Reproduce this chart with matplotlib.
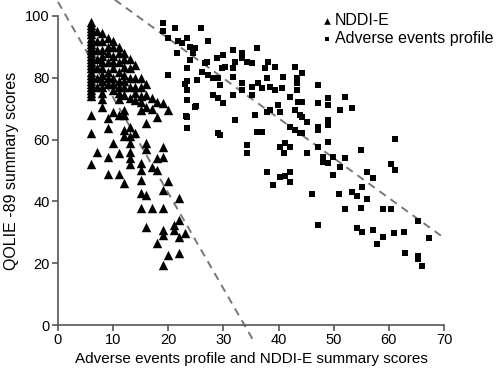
import matplotlib
matplotlib.use("Agg")
import matplotlib.pyplot as plt
import numpy as np

plt.rcParams['font.family'] = ['Liberation Sans', 'DejaVu Sans']

# NDDI-E summary score vs QOLIE-89 summary score (triangles)
nddi = {
    6: [98, 97, 96, 95, 94, 93, 92, 91, 90, 89, 88, 87, 86, 85, 84, 83, 82, 81,
        80, 79, 78, 77, 76, 75, 74, 68, 62, 52],
    7: [95, 92, 89, 86, 83, 80, 77, 56],
    8: [94.5, 92, 89, 87, 85, 83, 81, 79, 77, 75, 73, 70.5],
    9: [93, 90, 88, 85, 82, 80, 78, 67, 63.7, 54.4, 49],
    10: [92, 90, 87, 85, 83, 80, 78, 76, 69, 59],
    11: [90, 88, 85, 82, 79, 77, 75, 73, 68, 55.7, 49],
    12: [88, 86, 83.5, 81, 79, 77, 74.4, 69.6, 68, 63, 61, 46],
    13: [86, 83, 80, 77, 73.4, 64, 61, 59, 56, 54, 52],
    14: [84, 80, 77, 75, 72.8, 62],
    15: [80, 77, 74, 72, 69.6, 52.4, 50, 47, 42.7, 38],
    16: [78, 74.4, 70.6, 65.4, 59, 57, 42, 31.7],
    17: [73.4, 70, 51, 38],
    18: [72, 67.3, 54, 50, 26.5],
    19: [71.8, 57.6, 54.4, 43.7, 38, 30.7, 29, 19.4],
    20: [69.6, 46.6, 22.7],
    21: [32.4, 30.7],
    22: [41, 34, 28.5, 23.3],
    23: [29.8],
}
tri_x = [x for x, ys in nddi.items() for _ in ys]
tri_y = [y for ys in nddi.values() for y in ys]

# Adverse events profile summary score vs QOLIE-89 (squares)
aep_x = [19, 21.2, 19, 20, 21.8, 23.4, 26, 24, 22.5, 21.6, 24.5, 23.4, 25.2, 20,
         23.4, 23.4, 23.4, 24.9, 23.4, 23.4, 26.7, 27.2, 24.9, 24, 23, 25, 27,
         26.1, 27.2, 28.1, 29, 29.4, 28.1, 29, 30, 29, 28.9, 30, 29.8, 30.3, 31.8,
         32.1, 31.8, 33.4, 33.4, 34.3, 35.2, 36.1, 31.8, 33.4, 31.8, 33.4, 35.2,
         35.2, 36.3, 37, 37.9, 38.5, 39.4, 40.6, 37.6, 38.1, 39.4, 40.8, 42.1, 43,
         43.4, 43.4, 43.4, 43.6, 35.8, 37.9, 38.5, 39.9, 40.3, 36.1, 37, 32.1, 43,
         43.9, 42.1, 43, 43.9, 44.3, 47.2, 44.3, 47.2, 49, 49, 52.1, 51.2, 53.4,
         44.3, 45.2, 47.2, 47.2, 49, 49, 44.3, 49, 47.2, 45.2, 48.1, 48.1, 49, 49.9,
         51.2, 52.1, 49.9, 55, 56.1, 57.2, 61.2, 60.3, 61.2, 37.9, 40.3, 41.2, 42.1,
         42.1, 39, 46.1, 51, 53.4, 54.3, 56.1, 55.2, 52.1, 55, 59, 60.3, 65.2, 47.2,
         54.3, 55.2, 57.2, 59, 57.9, 61, 62.8, 67.2, 63, 65.2, 65.2, 66.1, 40.3,
         41.2, 42.1, 34.3, 34.3, 29.4, 41, 23.2]
aep_y = [97.7, 96, 95, 93, 92, 92.8, 96, 90, 91.2, 88, 88, 83, 79.3, 81,
         79, 76, 72.8, 70.6, 67.3, 63.7, 84.8, 92, 89.6, 85.8, 78, 71, 85,
         81.9, 81, 80, 80, 77.7, 74.4, 73.4, 71.8, 62, 86.4, 87.4, 83, 83.5, 89,
         85, 83, 88, 86.4, 85, 84.8, 89.6, 80.3, 78.3, 74.4, 76, 77,
         74.4, 78.3, 76.7, 80, 77, 76, 76.7, 83, 85, 83.5, 80.3, 73.8, 83.5,
         80, 78.3, 76, 72, 68, 69, 69.6, 71.2, 69, 62.5, 62.5, 66.3, 69.6,
         68, 64, 63, 62, 81.6, 77.7, 72, 71.8, 73.4, 71.2, 73.8, 69.6, 70.2,
         67.3, 65.7, 64, 63, 66.3, 64.7, 62, 59.2, 57.6, 55.7, 54.4, 52.8, 52.4, 54.4,
         51, 54, 48.5, 56.6, 49.5, 47.6, 60.2, 52, 50, 49.5, 48, 48.2, 49.5,
         46.3, 45.3, 42.4, 42.4, 43, 41.7, 40.8, 44.7, 37.5, 37.9, 37.5, 37.5, 33.7, 32.4,
         31.4, 30.1, 30.7, 28.5, 26.2, 29.8, 30.1, 28.2, 23.3, 22.3, 21.4, 19, 57.6,
         59, 57.6, 58.2, 55.7, 61.5, 55.7, 67.6]

# regression lines: intercept, slope, x-range
nddi_fit = (104.5, -3.09, 0.0, 35.7)
aep_fit = (118.5, -1.29, 10.3, 70.0)

xticks = [0, 10, 20, 30, 40, 50, 60, 70]
yticks = [0, 20, 40, 60, 80, 100]

fig = plt.figure(figsize=(5.0, 3.78), dpi=100)
ax = fig.add_axes([0.116, 0.140, 0.772, 0.818])

tri = ax.scatter(tri_x, tri_y, marker='^', s=46, c='black', linewidths=0,
                 clip_on=False, zorder=3, label='NDDI-E')
sq = ax.scatter(aep_x, aep_y, marker='s', s=22, c='black', linewidths=0,
                clip_on=False, zorder=3, label='Adverse events profile')

for b0, b1, x0, x1 in (nddi_fit, aep_fit):
    xs = np.array([x0, x1])
    ax.plot(xs, b0 + b1 * xs, color='#777777', lw=1.4, dashes=(4, 3),
            clip_on=False, zorder=2)

ax.set_xlim(0, 70)
ax.set_ylim(0, 100)
ax.set_xticks(xticks)
ax.set_yticks(yticks)
for s in ('top', 'right'):
    ax.spines[s].set_visible(False)
for s in ('left', 'bottom'):
    ax.spines[s].set_color('#555555')
    ax.spines[s].set_linewidth(1.2)
ax.tick_params(direction='out', length=4, width=1.2, color='#555555',
               labelsize=10.5, pad=2)

ax.set_xlabel('Adverse events profile and NDDI-E summary scores', fontsize=11,
              labelpad=3)
ax.set_ylabel('QOLIE -89 summary scores', fontsize=11.5, labelpad=4)

ax.legend(handles=[tri, sq], loc='upper left', bbox_to_anchor=(0.66, 1.035),
          frameon=False, fontsize=11.5, markerscale=0.7, handletextpad=0.1,
          labelspacing=0.2, borderpad=0, handlelength=0.8)

fig.savefig('out.png', dpi=100)
